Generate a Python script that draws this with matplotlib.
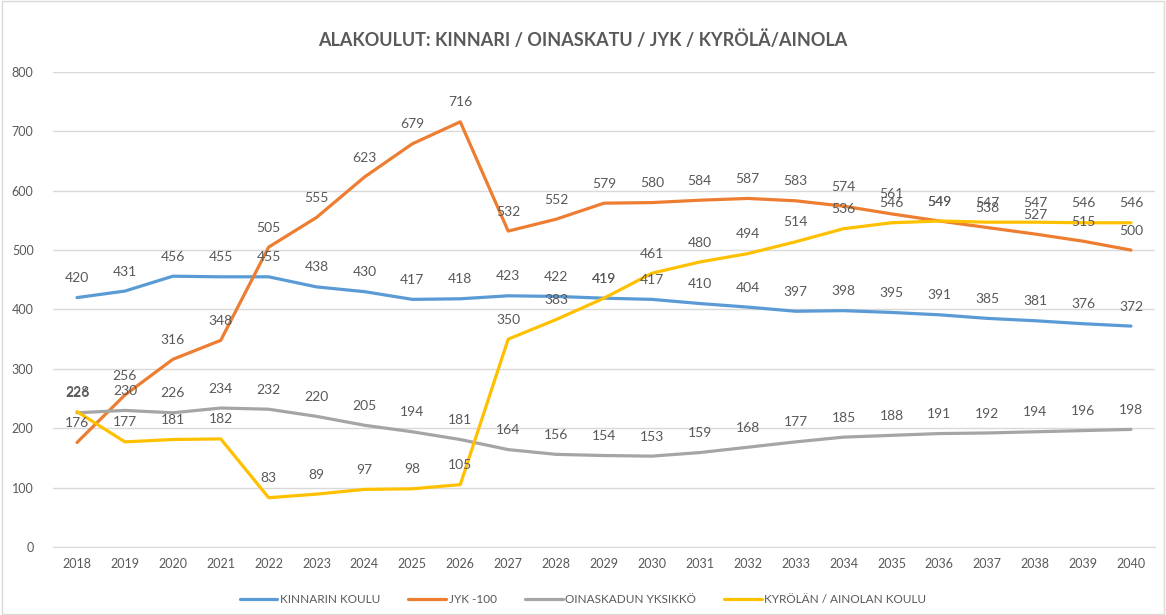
import matplotlib.pyplot as plt

plt.rcParams['font.family'] = ['Lato', 'DejaVu Sans']

years = list(range(2018, 2041))
kinnari = [420, 431, 456, 455, 455, 438, 430, 417, 418, 423, 422, 419, 417,
           410, 404, 397, 398, 395, 391, 385, 381, 376, 372]
jyk = [176, 256, 316, 348, 505, 555, 623, 679, 716, 532, 552, 579, 580,
       584, 587, 583, 574, 561, 549, 538, 527, 515, 500]
oinaskatu = [226, 230, 226, 234, 232, 220, 205, 194, 181, 164, 156, 154, 153,
             159, 168, 177, 185, 188, 191, 192, 194, 196, 198]
kyrola = [228, 177, 181, 182, 83, 89, 97, 98, 105, 350, 383, 419, 461,
          480, 494, 514, 536, 546, 549, 547, 547, 546, 546]

series = [
    ("KINNARIN KOULU", kinnari, "#5B9BD5"),
    ("JYK -100", jyk, "#ED7D31"),
    ("OINASKADUN YKSIKKÖ", oinaskatu, "#A5A5A5"),
    ("KYRÖLÄN / AINOLAN KOULU", kyrola, "#FFC000"),
]

fig = plt.figure(figsize=(11.66, 6.15), dpi=100)
fig.patches.append(plt.Rectangle((0.002, 0.002), 0.996, 0.996, transform=fig.transFigure,
                                 fill=False, edgecolor="#D9D9D9", linewidth=1))
ax = fig.add_axes([0.0455, 0.1106, 0.945, 0.7724])

x = list(range(len(years)))
for name, vals, col in series:
    ax.plot(x, vals, color=col, linewidth=2.3, label=name, solid_capstyle='round')
for name, vals, col in series:
    for xi, v in zip(x, vals):
        ax.annotate(str(v), (xi, v), xytext=(0, 14), textcoords='offset points',
                    ha='center', va='center', fontsize=10, color='#595959')

ax.set_xlim(-0.5, len(years) - 0.5)
ax.set_ylim(0, 800)
ax.set_yticks(range(0, 801, 100))
ax.set_xticks(x)
ax.set_xticklabels([str(y) for y in years])
ax.grid(axis='y', color='#D9D9D9', linewidth=1)
ax.set_axisbelow(True)
for s in ['top', 'right', 'left']:
    ax.spines[s].set_visible(False)
ax.spines['bottom'].set_color('#D9D9D9')
ax.tick_params(axis='both', length=0, labelsize=9, colors='#595959')
ax.tick_params(axis='x', pad=8)
ax.tick_params(axis='y', pad=14)

fig.text(0.5, 0.935, "ALAKOULUT: KINNARI / OINASKATU / JYK / KYRÖLÄ/AINOLA",
         ha='center', va='center', fontsize=13, fontweight='bold', color='#595959')

fig.legend(loc='center', bbox_to_anchor=(0.5, 0.025), ncol=4, frameon=False,
           fontsize=8.5, handlelength=3.2, handletextpad=0.2, columnspacing=2.4,
           labelcolor='#595959')

fig.savefig("out.png", dpi=100)
